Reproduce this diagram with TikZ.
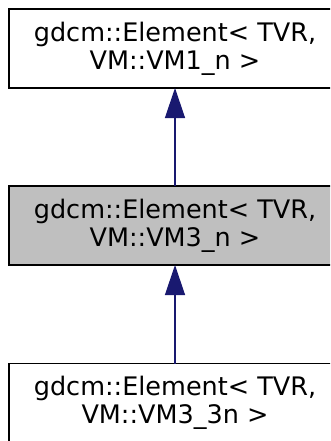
\documentclass[tikz,border=0pt]{standalone}
\usepackage{fontspec}
\setmainfont{DejaVu Sans}
\usepackage{tikz}
\usetikzlibrary{positioning,arrows.meta}
\usepackage{xcolor}
\definecolor{edgeblue}{HTML}{191970}
\definecolor{curgray}{HTML}{BFBFBF}

\tikzset{
	classbox/.style={draw=black,line width=1.4pt,minimum width=332pt,minimum height=79pt,
		align=center,inner sep=0pt,outer sep=0pt,
		font=\fontsize{25.5}{27.8}\selectfont},
	inherit/.style={-{Triangle[length=30pt,width=20pt]},line width=1.3pt,draw=edgeblue,fill=edgeblue}
}

\begin{document}
\begin{tikzpicture}[x=1pt,y=1pt]
		
		\clip (0,0) rectangle (330,-441);
		
		\node[classbox] (base) at (175,-48.5)
		{gdcm::Element< TVR,\\ VM::VM1\_n >};
		
		\node[classbox,fill=curgray] (cur) at (175,-225.5)
		{gdcm::Element< TVR,\\ VM::VM3\_n >};
		
		\node[classbox] (derived) at (175,-403)
		{gdcm::Element< TVR,\\ VM::VM3\_3n >};
		
		\draw[inherit] (cur.north)--(base.south);
		
		\draw[inherit] (derived.north)--(cur.south);
		
	\end{tikzpicture}
\end{document}
